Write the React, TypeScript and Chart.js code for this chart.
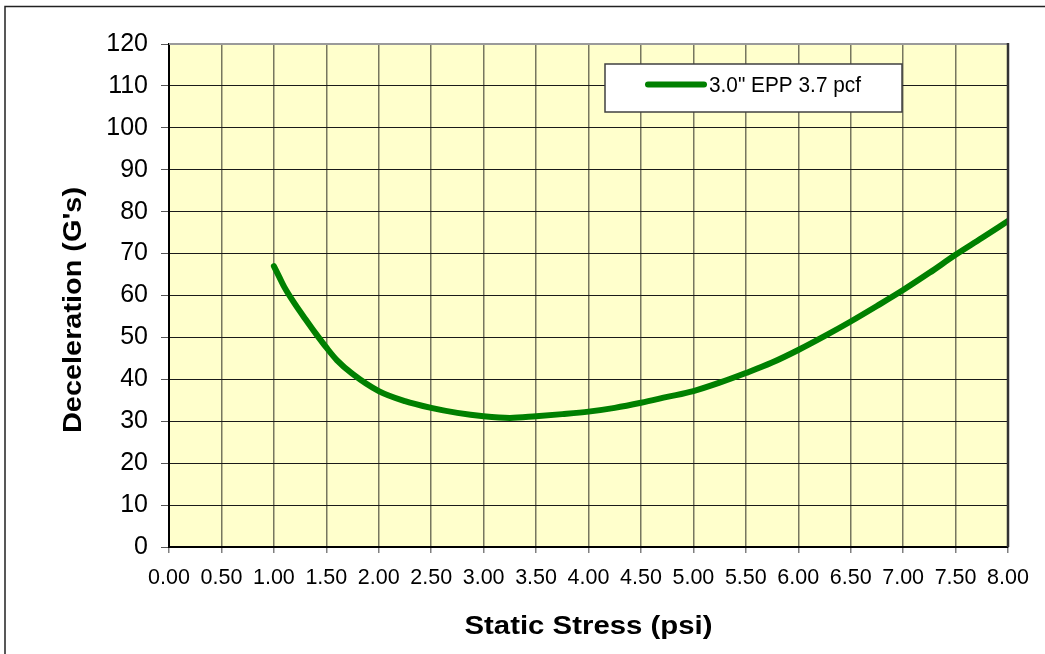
import React, { useEffect, useRef } from "react";
import { Chart, registerables } from "chart.js";

Chart.register(...registerables);

// ---- Data ----
const stressPsi = [
  1.0, 1.05, 1.1, 1.2, 1.3, 1.4, 1.5, 1.6, 1.75, 2.0, 2.25, 2.5, 2.75, 3.0, 3.25,
  3.5, 3.75, 4.0, 4.25, 4.5, 4.75, 5.0, 5.25, 5.5, 5.75, 6.0, 6.25, 6.5, 6.75,
  7.0, 7.25, 7.5, 7.75, 8.0,
];
const decelG = [
  67, 64.5, 62, 58, 54.4, 50.9, 47.6, 44.6, 41.3, 37.2, 34.8, 33.2, 32, 31.2, 30.8,
  31.2, 31.7, 32.3, 33.2, 34.4, 35.8, 37.2, 39.2, 41.5, 44, 47, 50.3, 53.8, 57.5,
  61.3, 65.4, 69.7, 73.7, 77.8,
];
const seriesLabel = '3.0" EPP 3.7 pcf';
const xTitle = "Static Stress (psi)";
const yTitle = "Deceleration (G's)";
const xRange = [0, 8];
const xStep = 0.5;
const yRange = [0, 120];
const yStep = 10;

const FONT = "'Liberation Sans', Arial, Helvetica, sans-serif";

function stretchedText(ctx: CanvasRenderingContext2D, text: string, x: number, y: number, targetWidth: number) {
  const w = ctx.measureText(text).width;
  const sx = targetWidth / w;
  ctx.save();
  ctx.translate(x, y);
  ctx.scale(sx, 1);
  ctx.fillText(text, 0, 0);
  ctx.restore();
}

export default function App() {
  const ref = useRef<HTMLCanvasElement>(null);

  useEffect(() => {
    const canvas = ref.current;
    if (!canvas) return;

    const decor = {
      id: "excelDecor",
      beforeDraw(chart: any) {
        const { ctx, chartArea: a } = chart;
        ctx.save();
        ctx.fillStyle = "#ffffff";
        ctx.fillRect(0, 0, chart.width, chart.height);
        ctx.fillStyle = "#FFFFCC";
        ctx.fillRect(a.left, a.top, a.right - a.left, a.bottom - a.top);
        // outer chart border
        ctx.strokeStyle = "#222";
        ctx.lineWidth = 1.5;
        ctx.strokeRect(5, 6.5, 2000, 2000);
        ctx.restore();
      },
      afterDraw(chart: any) {
        const { ctx, chartArea: a } = chart;
        ctx.save();
        // plot area top / right borders
        ctx.strokeStyle = "#9a9a9a";
        ctx.lineWidth = 2;
        ctx.beginPath();
        ctx.moveTo(a.left, a.top);
        ctx.lineTo(a.right, a.top);
        ctx.stroke();
        ctx.strokeStyle = "#333";
        ctx.lineWidth = 2.5;
        ctx.beginPath();
        ctx.moveTo(a.right, a.top - 1);
        ctx.lineTo(a.right, a.bottom);
        ctx.stroke();

        // legend box
        const lx = 605, ly = 64, lw = 297, lh = 48;
        ctx.fillStyle = "#ffffff";
        ctx.fillRect(lx, ly, lw, lh);
        ctx.strokeStyle = "#404040";
        ctx.lineWidth = 1.5;
        ctx.strokeRect(lx, ly, lw, lh);
        const ds = chart.data.datasets[0];
        ctx.strokeStyle = ds.borderColor;
        ctx.lineWidth = 6;
        ctx.lineCap = "round";
        ctx.beginPath();
        ctx.moveTo(648, 84.5);
        ctx.lineTo(704, 84.5);
        ctx.stroke();
        ctx.fillStyle = "#000";
        ctx.font = `22.5px ${FONT}`;
        ctx.textAlign = "left";
        ctx.textBaseline = "middle";
        stretchedText(ctx, ds.label, 709, 86, 152);

        // axis titles
        ctx.font = `bold 26px ${FONT}`;
        ctx.textAlign = "center";
        ctx.textBaseline = "middle";
        stretchedText(ctx, xTitle, (a.left + a.right) / 2, 627, 248);
        ctx.translate(74, 310);
        ctx.rotate(-Math.PI / 2);
        stretchedText(ctx, yTitle, 0, 0, 246);
        ctx.restore();
      },
    };

    const chart = new Chart(canvas, {
      type: "line",
      data: {
        datasets: [
          {
            label: seriesLabel,
            data: stressPsi.map((x, i) => ({ x, y: decelG[i] })),
            borderColor: "#008000",
            borderWidth: 6,
            pointRadius: 0,
            cubicInterpolationMode: "monotone",
            borderCapStyle: "round",
            borderJoinStyle: "round",
            fill: false,
          },
        ],
      },
      options: {
        responsive: false,
        animation: false,
        font: { family: FONT },
        layout: { padding: { left: 0, top: 44, right: 37, bottom: 0 } },
        plugins: {
          legend: { display: false },
          tooltip: { enabled: false },
        },
        scales: {
          x: {
            type: "linear",
            min: xRange[0],
            max: xRange[1],
            afterFit(s: any) {
              s.height = 107;
            },
            ticks: {
              stepSize: xStep,
              callback: (v: any) => Number(v).toFixed(2),
              font: { size: 21.5, family: FONT },
              color: "#000",
              padding: 12,
              maxRotation: 0,
              minRotation: 0,
              autoSkip: false,
            },
            grid: {
              color: "#77775f",
              lineWidth: 1.5,
              tickLength: 6,
              tickColor: "#808080",
            },
            border: { color: "#000", width: 2 },
          },
          y: {
            type: "linear",
            min: yRange[0],
            max: yRange[1],
            afterFit(s: any) {
              s.width = 169;
            },
            ticks: {
              stepSize: yStep,
              font: { size: 25, family: FONT },
              color: "#000",
              padding: 13,
            },
            grid: {
              color: "#1a1a1a",
              lineWidth: 1,
              tickLength: 8,
              tickColor: "#555",
            },
            border: { color: "#000", width: 2 },
          },
        },
      },
      plugins: [decor],
    } as any);

    return () => chart.destroy();
  }, []);

  return (
    <div style={{ position: "absolute", left: 0, top: 0, width: 1045, height: 654 }}>
      <canvas ref={ref} width={1045} height={654} />
    </div>
  );
}
